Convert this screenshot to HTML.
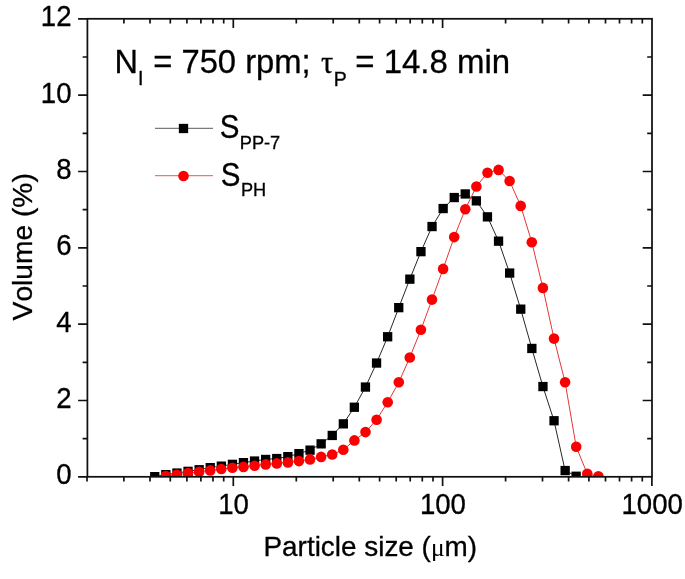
<!DOCTYPE html>
<html><head><meta charset="utf-8"><title>chart</title>
<style>
html,body{margin:0;padding:0;background:#fff;}
svg{display:block;}
text{font-family:"Liberation Sans",sans-serif;fill:#000;font-kerning:none;stroke:#000;stroke-width:0.3px;}
.ser{font-family:"Liberation Serif",serif;}
</style></head><body>
<svg width="685" height="579" viewBox="0 0 685 579" style="filter:blur(0.42px)">
<rect width="685" height="579" fill="#fff"/>
<defs><clipPath id="cp"><rect x="87.4" y="18.8" width="564.6" height="458.0"/></clipPath></defs>

<g clip-path="url(#cp)">
<polyline points="154.8,476.6 165.9,474.6 176.9,473.0 188.0,471.3 199.1,469.7 210.2,467.6 221.3,466.1 232.4,464.3 243.5,462.6 254.6,461.0 265.7,459.4 276.8,458.5 287.9,456.6 298.9,453.6 310.0,450.1 321.1,443.8 332.2,435.4 343.3,423.8 354.4,407.2 365.5,387.0 376.6,363.0 387.7,336.7 398.8,307.6 409.8,279.1 420.9,251.7 432.0,226.6 443.1,208.6 454.2,197.6 465.3,194.0 476.4,200.9 487.5,216.9 498.6,241.2 509.6,273.0 520.7,309.1 531.8,348.4 542.9,386.5 554.0,420.7 565.1,470.5 576.2,476.2" fill="none" stroke="#000" stroke-width="0.85"/>
<rect x="150.1" y="472.0" width="9.3" height="9.3" fill="#000"/>
<rect x="161.2" y="470.0" width="9.3" height="9.3" fill="#000"/>
<rect x="172.3" y="468.4" width="9.3" height="9.3" fill="#000"/>
<rect x="183.4" y="466.7" width="9.3" height="9.3" fill="#000"/>
<rect x="194.5" y="465.1" width="9.3" height="9.3" fill="#000"/>
<rect x="205.6" y="463.0" width="9.3" height="9.3" fill="#000"/>
<rect x="216.7" y="461.5" width="9.3" height="9.3" fill="#000"/>
<rect x="227.8" y="459.7" width="9.3" height="9.3" fill="#000"/>
<rect x="238.8" y="458.0" width="9.3" height="9.3" fill="#000"/>
<rect x="249.9" y="456.4" width="9.3" height="9.3" fill="#000"/>
<rect x="261.0" y="454.8" width="9.3" height="9.3" fill="#000"/>
<rect x="272.1" y="453.9" width="9.3" height="9.3" fill="#000"/>
<rect x="283.2" y="452.0" width="9.3" height="9.3" fill="#000"/>
<rect x="294.3" y="449.0" width="9.3" height="9.3" fill="#000"/>
<rect x="305.4" y="445.5" width="9.3" height="9.3" fill="#000"/>
<rect x="316.5" y="439.2" width="9.3" height="9.3" fill="#000"/>
<rect x="327.6" y="430.8" width="9.3" height="9.3" fill="#000"/>
<rect x="338.7" y="419.2" width="9.3" height="9.3" fill="#000"/>
<rect x="349.7" y="402.6" width="9.3" height="9.3" fill="#000"/>
<rect x="360.8" y="382.4" width="9.3" height="9.3" fill="#000"/>
<rect x="371.9" y="358.4" width="9.3" height="9.3" fill="#000"/>
<rect x="383.0" y="332.1" width="9.3" height="9.3" fill="#000"/>
<rect x="394.1" y="303.0" width="9.3" height="9.3" fill="#000"/>
<rect x="405.2" y="274.5" width="9.3" height="9.3" fill="#000"/>
<rect x="416.3" y="247.0" width="9.3" height="9.3" fill="#000"/>
<rect x="427.4" y="221.9" width="9.3" height="9.3" fill="#000"/>
<rect x="438.5" y="203.9" width="9.3" height="9.3" fill="#000"/>
<rect x="449.6" y="192.9" width="9.3" height="9.3" fill="#000"/>
<rect x="460.6" y="189.3" width="9.3" height="9.3" fill="#000"/>
<rect x="471.7" y="196.2" width="9.3" height="9.3" fill="#000"/>
<rect x="482.8" y="212.2" width="9.3" height="9.3" fill="#000"/>
<rect x="493.9" y="236.5" width="9.3" height="9.3" fill="#000"/>
<rect x="505.0" y="268.4" width="9.3" height="9.3" fill="#000"/>
<rect x="516.1" y="304.5" width="9.3" height="9.3" fill="#000"/>
<rect x="527.2" y="343.8" width="9.3" height="9.3" fill="#000"/>
<rect x="538.3" y="381.9" width="9.3" height="9.3" fill="#000"/>
<rect x="549.4" y="416.1" width="9.3" height="9.3" fill="#000"/>
<rect x="560.5" y="465.9" width="9.3" height="9.3" fill="#000"/>
<rect x="571.5" y="471.6" width="9.3" height="9.3" fill="#000"/>
</g>
<g clip-path="url(#cp)">
<polyline points="165.9,476.1 176.9,474.7 188.0,473.1 199.1,471.7 210.2,470.4 221.3,469.0 232.4,467.8 243.5,466.9 254.6,465.7 265.7,464.4 276.8,463.4 287.9,462.4 298.9,461.1 310.0,459.4 321.1,456.9 332.2,454.5 343.3,449.8 354.4,440.4 365.5,432.1 376.6,419.7 387.7,402.2 398.8,382.3 409.8,357.5 420.9,329.8 432.0,299.6 443.1,268.9 454.2,237.1 465.3,209.2 476.4,186.5 487.5,172.7 498.6,169.9 509.6,181.0 520.7,205.9 531.8,242.3 542.9,287.9 554.0,338.6 565.1,382.2 576.2,446.8 587.3,473.8 598.4,476.3" fill="none" stroke="#e01010" stroke-width="0.85"/>
<circle cx="165.9" cy="476.1" r="5.3" fill="#fb0000"/>
<circle cx="176.9" cy="474.7" r="5.3" fill="#fb0000"/>
<circle cx="188.0" cy="473.1" r="5.3" fill="#fb0000"/>
<circle cx="199.1" cy="471.7" r="5.3" fill="#fb0000"/>
<circle cx="210.2" cy="470.4" r="5.3" fill="#fb0000"/>
<circle cx="221.3" cy="469.0" r="5.3" fill="#fb0000"/>
<circle cx="232.4" cy="467.8" r="5.3" fill="#fb0000"/>
<circle cx="243.5" cy="466.9" r="5.3" fill="#fb0000"/>
<circle cx="254.6" cy="465.7" r="5.3" fill="#fb0000"/>
<circle cx="265.7" cy="464.4" r="5.3" fill="#fb0000"/>
<circle cx="276.8" cy="463.4" r="5.3" fill="#fb0000"/>
<circle cx="287.9" cy="462.4" r="5.3" fill="#fb0000"/>
<circle cx="298.9" cy="461.1" r="5.3" fill="#fb0000"/>
<circle cx="310.0" cy="459.4" r="5.3" fill="#fb0000"/>
<circle cx="321.1" cy="456.9" r="5.3" fill="#fb0000"/>
<circle cx="332.2" cy="454.5" r="5.3" fill="#fb0000"/>
<circle cx="343.3" cy="449.8" r="5.3" fill="#fb0000"/>
<circle cx="354.4" cy="440.4" r="5.3" fill="#fb0000"/>
<circle cx="365.5" cy="432.1" r="5.3" fill="#fb0000"/>
<circle cx="376.6" cy="419.7" r="5.3" fill="#fb0000"/>
<circle cx="387.7" cy="402.2" r="5.3" fill="#fb0000"/>
<circle cx="398.8" cy="382.3" r="5.3" fill="#fb0000"/>
<circle cx="409.8" cy="357.5" r="5.3" fill="#fb0000"/>
<circle cx="420.9" cy="329.8" r="5.3" fill="#fb0000"/>
<circle cx="432.0" cy="299.6" r="5.3" fill="#fb0000"/>
<circle cx="443.1" cy="268.9" r="5.3" fill="#fb0000"/>
<circle cx="454.2" cy="237.1" r="5.3" fill="#fb0000"/>
<circle cx="465.3" cy="209.2" r="5.3" fill="#fb0000"/>
<circle cx="476.4" cy="186.5" r="5.3" fill="#fb0000"/>
<circle cx="487.5" cy="172.7" r="5.3" fill="#fb0000"/>
<circle cx="498.6" cy="169.9" r="5.3" fill="#fb0000"/>
<circle cx="509.6" cy="181.0" r="5.3" fill="#fb0000"/>
<circle cx="520.7" cy="205.9" r="5.3" fill="#fb0000"/>
<circle cx="531.8" cy="242.3" r="5.3" fill="#fb0000"/>
<circle cx="542.9" cy="287.9" r="5.3" fill="#fb0000"/>
<circle cx="554.0" cy="338.6" r="5.3" fill="#fb0000"/>
<circle cx="565.1" cy="382.2" r="5.3" fill="#fb0000"/>
<circle cx="576.2" cy="446.8" r="5.3" fill="#fb0000"/>
<circle cx="587.3" cy="473.8" r="5.3" fill="#fb0000"/>
<circle cx="598.4" cy="476.3" r="5.3" fill="#fb0000"/>
</g>
<g stroke="#111" fill="none" stroke-linecap="butt">
<rect x="87.4" y="18.8" width="564.6" height="458.0" stroke-width="1.75"/>
<path d="M78.1,476.8H87.4M82.6,438.6H87.4M647.2,438.6H652.0M78.1,400.5H87.4M642.7,400.5H652.0M82.6,362.3H87.4M647.2,362.3H652.0M78.1,324.1H87.4M642.7,324.1H652.0M82.6,286.0H87.4M647.2,286.0H652.0M78.1,247.8H87.4M642.7,247.8H652.0M82.6,209.6H87.4M647.2,209.6H652.0M78.1,171.5H87.4M642.7,171.5H652.0M82.6,133.3H87.4M647.2,133.3H652.0M78.1,95.1H87.4M642.7,95.1H652.0M82.6,57.0H87.4M647.2,57.0H652.0M78.1,18.8H87.4M87.0,476.8V481.6M123.9,476.8V481.6M123.9,18.8V23.6M150.0,476.8V481.6M150.0,18.8V23.6M170.3,476.8V481.6M170.3,18.8V23.6M186.9,476.8V481.6M186.9,18.8V23.6M200.9,476.8V481.6M200.9,18.8V23.6M213.0,476.8V481.6M213.0,18.8V23.6M223.7,476.8V481.6M223.7,18.8V23.6M233.3,476.8V486.1M233.3,18.8V28.1M296.3,476.8V481.6M296.3,18.8V23.6M333.2,476.8V481.6M333.2,18.8V23.6M359.3,476.8V481.6M359.3,18.8V23.6M379.6,476.8V481.6M379.6,18.8V23.6M396.2,476.8V481.6M396.2,18.8V23.6M410.2,476.8V481.6M410.2,18.8V23.6M422.3,476.8V481.6M422.3,18.8V23.6M433.0,476.8V481.6M433.0,18.8V23.6M442.6,476.8V486.1M442.6,18.8V28.1M505.6,476.8V481.6M505.6,18.8V23.6M542.5,476.8V481.6M542.5,18.8V23.6M568.6,476.8V481.6M568.6,18.8V23.6M588.9,476.8V481.6M588.9,18.8V23.6M605.5,476.8V481.6M605.5,18.8V23.6M619.5,476.8V481.6M619.5,18.8V23.6M631.6,476.8V481.6M631.6,18.8V23.6M642.3,476.8V481.6M642.3,18.8V23.6M651.9,476.8V486.1" stroke-width="1.7"/>
</g>
<text transform="translate(71.5,484.4) scale(1,1.1)" font-size="27.6" text-anchor="end">0</text>
<text transform="translate(71.5,408.1) scale(1,1.1)" font-size="27.6" text-anchor="end">2</text>
<text transform="translate(71.5,331.7) scale(1,1.1)" font-size="27.6" text-anchor="end">4</text>
<text transform="translate(71.5,255.4) scale(1,1.1)" font-size="27.6" text-anchor="end">6</text>
<text transform="translate(71.5,179.1) scale(1,1.1)" font-size="27.6" text-anchor="end">8</text>
<text transform="translate(71.5,102.7) scale(1,1.1)" font-size="27.6" text-anchor="end">10</text>
<text transform="translate(71.5,26.4) scale(1,1.1)" font-size="27.6" text-anchor="end">12</text>
<text transform="translate(233.6,513.6) scale(1,1.1)" font-size="27.6" text-anchor="middle">10</text>
<text transform="translate(442.9,513.6) scale(1,1.1)" font-size="27.6" text-anchor="middle">100</text>
<text transform="translate(652.2,513.6) scale(1,1.1)" font-size="27.6" text-anchor="middle">1000</text>
<text x="370.3" y="555.8" font-size="27.9" text-anchor="middle">Particle size (<tspan class="ser" font-size="25.5" stroke="none">μ</tspan>m)</text>
<text transform="translate(32.0,246.8) rotate(-90)" font-size="28.2" text-anchor="middle">Volume (%)</text>
<g font-size="32.5">
<text x="114.5" y="72.8">N</text>
<text x="138.1" y="85.0" font-size="19.5" stroke="none">I</text>
<text x="153.2" y="72.8" font-size="32.75">= 750 rpm;</text>
<text x="321.1" y="73.4" class="ser" font-size="30.5">τ</text>
<text x="333.8" y="85.5" font-size="19.5" stroke="none">P</text>
<text x="355.2" y="72.8" font-size="33">= 14.8 min</text>
</g>
<path d="M155,128.3H213" stroke="#000" stroke-width="0.65"/>
<rect x="178.85" y="123.85" width="9.3" height="9.3" fill="#000"/>
<path d="M155,175.7H213" stroke="#e01010" stroke-width="0.7"/>
<circle cx="183.5" cy="176" r="5.3" fill="#fb0000"/>
<text transform="translate(219.7,137.6) scale(1,1.12)" font-size="29.5">S</text>
<text x="239.79999999999998" y="149.1" font-size="18.2" stroke="none">PP-7</text>
<text transform="translate(220.79999999999998,185.6) scale(1,1.12)" font-size="29.5">S</text>
<text x="240.89999999999998" y="196.4" font-size="18.2" stroke="none">PH</text>
</svg></body></html>
